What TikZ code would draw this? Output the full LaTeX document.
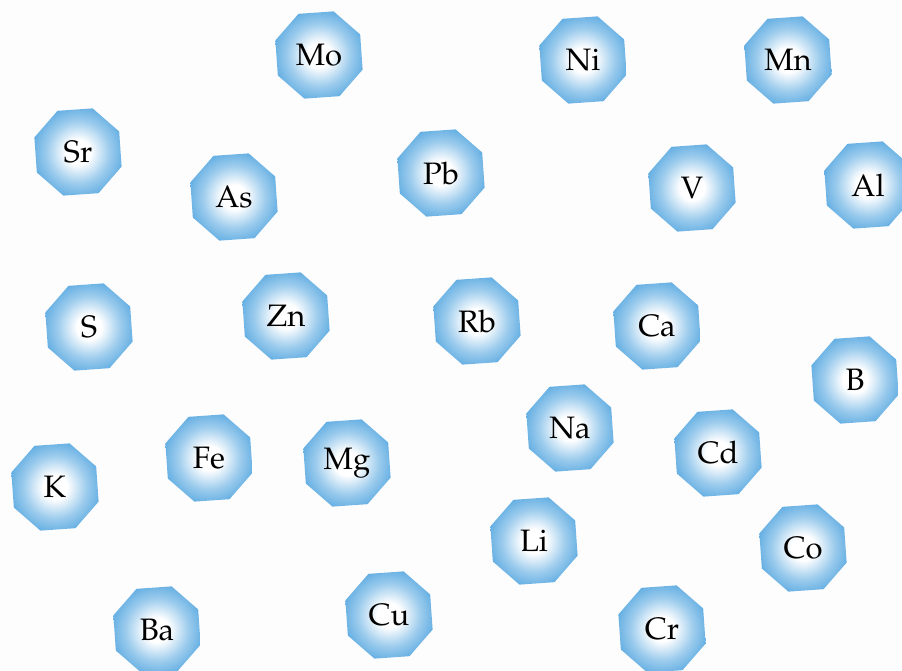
\documentclass[tikz,border=0pt]{standalone}
\usepackage[T1]{fontenc}
\usepackage{mathpazo}
\usepackage{tikz}
\usetikzlibrary{shapes.geometric}
\usepackage{xcolor}
\definecolor{paper}{RGB}{253,253,254}
\definecolor{ionblue}{RGB}{76,162,222}
\pgfdeclareradialshading{ionshade}{\pgfpoint{0bp}{0bp}}{%
  color(0bp)=(white); color(7bp)=(white); color(18bp)=(ionblue!55);
  color(30bp)=(ionblue); color(50bp)=(ionblue)}
\tikzset{
  elem/.style={regular polygon, regular polygon sides=8, shape border rotate=4,
    minimum size=92pt, inner sep=0pt, shading=ionshade,
    font=\fontsize{31}{34}\selectfont}
}

\begin{document}
\begin{tikzpicture}[x=1pt, y=-1pt]
  \fill[paper] (0,0) rectangle (902,671);
  \useasboundingbox (0,0) rectangle (902,671);
  % top rows
  \node[elem] (mo) at (319,55) {Mo};
  \node[elem] (ni) at (583,60) {Ni};
  \node[elem] (mn) at (788,60) {Mn};
  \node[elem] (sr) at (78,152) {Sr};
  \node[elem] (as) at (234,197) {As};
  \node[elem] (pb) at (441,173) {Pb};
  \node[elem] (v) at (692,188) {V};
  \node[elem] (al) at (868,185) {Al};
  % middle
  \node[elem] (s) at (89,327) {S};
  \node[elem] (zn) at (286,316) {Zn};
  \node[elem] (rb) at (477,321) {Rb};
  \node[elem] (ca) at (657,326) {Ca};
  \node[elem] (b) at (855,380) {B};
  \node[elem] (na) at (570,428) {Na};
  \node[elem] (cd) at (718,453) {Cd};
  \node[elem] (k) at (55,487) {K};
  \node[elem] (fe) at (209,458) {Fe};
  \node[elem] (mg) at (347,463) {Mg};
  % bottom
  \node[elem] (li) at (534,541) {Li};
  \node[elem] (co) at (803,548) {Co};
  \node[elem] (ba) at (157,630) {Ba};
  \node[elem] (cu) at (389,615) {Cu};
  \node[elem] (cr) at (662,629) {Cr};
\end{tikzpicture}
\end{document}
